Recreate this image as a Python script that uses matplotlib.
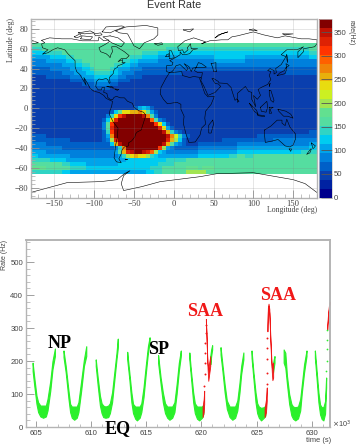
#!/usr/bin/env python3
import numpy as np
import matplotlib
matplotlib.use('Agg')
import matplotlib.pyplot as plt
from matplotlib.colors import ListedColormap, BoundaryNorm
from matplotlib.ticker import MultipleLocator

W, H = 357, 445
SERIF = 'Liberation Serif'
SANS = 'Liberation Sans'
GRAY = '#b4b4b4'
TXT = '#444444'

# colour level of each map cell, north to south, one char per 5 deg of longitude
# (0-9, a-j: level index on the colour bar)
map_rows = [
    '888888 888888 888888 888888 888888 888888 888888 888888 888888 888888 888888 888888',
    '777888 888888 888888 888888 888888 888877 777777 777777 777777 777777 777777 777788',
    '666677 778888 888888 888888 888877 776666 666666 666666 666666 666666 666666 666677',
    '555556 666778 888888 888888 877766 665555 555555 555566 666666 555555 555555 555566',
    '444455 555667 788888 888887 766555 554444 444444 444455 555555 444444 444444 444444',
    '444444 445556 677888 888776 655444 444444 444444 444444 444444 444444 444444 444444',
    '333334 444455 566788 887655 544433 333333 333333 333333 333333 333333 333333 333333',
    '333333 334445 556677 776654 443333 333333 332222 222222 222222 222222 222233 333333',
    '222233 333344 455566 665544 333322 222222 222222 222222 222222 222222 222222 222222',
    '222222 222233 334455 554433 322222 222222 222222 222222 222222 222222 222222 222222',
    '222222 222222 233344 443322 222222 222222 222222 222222 222222 222222 222222 222222',
    '222222 222222 222333 332222 222222 222222 222222 222222 222222 222222 222222 222222',
    '222222 222222 222222 222222 222222 222222 222222 222222 222222 222222 222222 222222',
    '222222 222222 222222 222222 222222 222222 222222 222222 222222 222222 222222 222222',
    '222222 222222 222222 222222 222222 222222 222222 222222 222222 222222 222222 222222',
    '222222 222222 222222 222222 222222 222222 222222 222222 222222 222222 222222 222222',
    '222222 222222 222222 222222 223565 322222 222222 222222 222222 222222 222222 222222',
    '222222 222222 222222 22369c cddec9 532222 222222 222222 222222 222222 222222 222222',
    '222222 222222 222222 247cgi jjjjie 842222 222222 222222 222222 222222 222222 222222',
    '222222 222222 222222 36chjj jjjjjj f84322 222222 222222 222222 222222 222222 222222',
    '222222 222222 222222 48gjjj jjjjjj jgc632 222222 222222 222222 222222 222222 222222',
    '222222 222222 222222 48hjjj jjjjjj jjhc53 222222 222222 222222 222222 222222 222222',
    '222222 222222 222222 37gjjj jjjjjj jjjid7 432222 222222 222222 222222 222222 222233',
    '333322 222222 222222 35ejjj jjjjjj jjjjie b74322 222222 222222 222333 333333 333333',
    '333333 333322 222222 34ahjj jjjjjj jjjjhd a63222 222222 333333 333333 344444 444444',
    '444433 333333 333333 336dij jjjjjj jjjid8 543222 333333 333344 444444 444444 444455',
    '444444 443333 333333 33347e jjjjjj jjga54 333333 444444 444455 555555 555555 555566',
    '555544 444444 444444 44458d hijjih fa6544 444444 555555 555566 666666 666666 667777',
    '665555 555544 444444 444457 acdcca 765555 555555 666666 667788 778888 888888 888888',
    '777776 666555 555555 555555 666666 666677 777888 888888 888888 888888 888888 888888',
    '888888 887766 665555 555566 666666 667777 888888 888888 888888 888888 888888 888888',
    '999988 888877 776666 666666 666666 777888 888999 899988 888888 888888 888888 888888',
    '777777 776655 555555 555555 555556 677888 888aaa aa8888 888888 888888 888888 888888',
]
lon_edges = np.arange(-180, 181, 5)
lat_edges = np.arange(66, -67, -4)

palette = ['#00008c', '#0022a2', '#0a3fae', '#0060c8', '#0080dc', '#00a4ea',
           '#00ccf0', '#30d4c4', '#55dda0', '#62e090', '#a2e452', '#ccf022',
           '#e8dc10', '#e8b00c', '#f08408', '#ff6000', '#ff3400', '#de2204',
           '#c01204', '#820000']
rate_max = 378.0

# coast outlines, lon/lat
americas = [(-166, 68.5), (-156, 71), (-141, 70), (-128, 70), (-115, 68), (-108, 68), (-95, 68),
            (-94, 72), (-88, 68), (-82, 69), (-81, 67), (-87, 64), (-94, 61), (-92, 57), (-85, 55),
            (-82, 53), (-80, 51), (-79, 54), (-77, 57), (-78, 62), (-72, 62), (-66, 59), (-62, 57),
            (-56, 53), (-60, 50), (-66, 50), (-70, 47), (-64, 49), (-65, 46), (-61, 46), (-66, 44),
            (-70, 43), (-71, 41), (-74, 40), (-76, 37), (-76, 35), (-81, 31), (-80, 26), (-81, 25),
            (-83, 29), (-85, 30), (-90, 29), (-94, 29.5), (-97, 27), (-98, 22), (-95, 18.5),
            (-91, 18.5), (-90, 21), (-87, 21), (-88, 16), (-84, 15), (-83, 11), (-80, 9), (-77, 8.5),
            (-75, 11), (-72, 12), (-67, 10.5), (-62, 10.5), (-58, 7), (-52, 5), (-50, 1), (-44, -2.5),
            (-38, -4), (-35, -7), (-37, -12), (-39, -17), (-41, -22), (-46, -24), (-48, -26),
            (-49, -29), (-53, -33), (-57, -35), (-57, -38), (-62, -39), (-65, -42), (-66, -46),
            (-69, -51), (-66, -55), (-72, -54), (-75, -50), (-74, -44), (-73, -37), (-71, -30),
            (-70, -20), (-76, -14), (-81, -6), (-80, -2), (-78, 2), (-77, 7), (-80, 8), (-85, 10),
            (-88, 13), (-94, 16), (-100, 17), (-105, 20), (-109, 26), (-113, 31), (-110, 23),
            (-115, 30), (-118, 34), (-122, 37), (-124, 42), (-124, 48), (-128, 51), (-133, 55),
            (-137, 59), (-146, 61), (-152, 59), (-158, 56), (-165, 54.5), (-158, 59), (-165, 61),
            (-166, 65), (-162, 66), (-166, 68.5)]
eurasia = [(-5.5, 36), (-9, 37), (-9, 43), (-2, 43.5), (-1, 46), (-5, 48), (2, 51), (8, 54), (8, 57),
           (11, 54), (14, 54), (20, 55), (24, 59), (30, 60), (22, 60), (21, 65), (17, 61), (18, 59),
           (13, 55.5), (11, 59), (6, 58), (5, 62), (14, 68), (25, 71), (40, 67), (35, 65), (45, 68),
           (60, 69), (68, 69), (73, 72), (80, 73), (100, 77), (113, 74), (130, 71), (140, 73),
           (160, 70), (170, 70), (180, 69), (180, 65), (177, 62), (163, 60), (163, 57), (156, 51),
           (156, 57), (163, 62), (155, 59), (142, 59), (135, 54), (141, 52), (135, 44), (128, 40),
           (129, 36), (126, 34.5), (126, 38), (121, 40), (118, 38), (122, 37), (120, 33), (122, 29),
           (118, 24), (110, 21), (106, 19), (109, 13), (105, 9), (100, 13), (103, 1.5), (98, 9),
           (98, 16), (94, 17), (90, 22), (80, 15), (80, 10), (77, 8), (73, 18), (72, 21), (67, 25),
           (57, 25.5), (56, 27), (50, 30), (48, 30), (52, 25), (56, 24.5), (59, 22), (52, 16),
           (43, 13), (38, 22), (34, 28), (35, 31), (36, 36), (30, 36), (26, 38), (28, 41), (36, 41),
           (41, 41.5), (35, 45), (31, 46), (28, 41), (24, 40.5), (22, 37), (19, 42), (13, 45),
           (18, 40), (16, 38), (8, 44), (3, 43), (0, 39), (-2, 37), (-5.5, 36)]
africa = [(-5.5, 35.8), (10, 37), (11, 33), (20, 31), (25, 32), (34, 31), (32.5, 30), (36, 22), (39, 15),
          (43, 11.5), (51, 12), (47, 4), (40, -3), (39, -10), (40, -16), (35, -20), (33, -27), (27, -34),
          (19, -34.5), (15, -25), (12, -15), (13, -8), (9, -1), (9, 4), (4, 6), (-4, 5), (-8, 4.5),
          (-13, 9), (-17, 14.5), (-16, 21), (-10, 30), (-5.5, 35.8)]
greenland = [(-73, 78), (-60, 82), (-35, 83.5), (-20, 81), (-20, 74), (-25, 70), (-37, 66), (-43, 60),
             (-50, 63), (-54, 69), (-58, 75), (-68, 76), (-73, 78)]
australia = [(114, -22), (122, -18), (130, -12), (136, -12), (136, -15), (140, -17.5), (142, -11),
             (146, -19), (153, -26), (153, -31), (150, -37), (146, -39), (140, -38), (136, -35),
             (131, -31.5), (124, -33), (115, -34.5), (114, -26), (114, -22)]
antarctica = [(-180, -85), (-134, -75), (-92, -74), (-71, -72), (-62, -66), (-55, -63), (-63, -68),
              (-66, -76), (-63, -83), (-40, -79), (-17, -74), (33, -69), (54, -66), (100, -65),
              (150, -72), (165, -76), (180, -85)]
islands = [
    [(-80, 73), (-70, 71), (-62, 66), (-66, 62), (-72, 64), (-78, 66), (-85, 70), (-89, 72), (-80, 73)],
    [(-90, 77), (-85, 82), (-65, 83), (-62, 82), (-75, 78), (-80, 76), (-90, 77)],
    [(-117, 70), (-105, 69), (-102, 72), (-115, 73), (-117, 70)],
    [(-125, 72), (-118, 75), (-116, 73), (-122, 71), (-125, 72)],
    [(-100, 75), (-92, 76), (-90, 74), (-98, 73), (-100, 75)],
    [(-120, 76), (-105, 78), (-100, 76), (-112, 75), (-120, 76)],
    [(-180, 69), (-170, 66), (-180, 65)],
    [(47, 45), (53, 46), (53, 40), (54, 37), (50, 37), (49, 41), (47, 45)],
    [(173, -35), (178, -38), (175, -41), (173, -35)],
    [(173, -41), (171, -45), (167, -46.5), (172, -41)],
    [(49, -12), (50, -16), (47, -25), (44, -25), (44, -17), (49, -12)],
    [(130, 33), (136, 34), (140, 35), (142, 40), (141, 45), (145, 43), (141, 41), (139, 38), (133, 35.5), (130, 33)],
    [(-5, 50), (1, 51), (-1, 54), (-3, 58), (-6, 58), (-5, 54), (-5, 50)],
    [(-10, 52), (-6, 52), (-6, 55), (-9, 54), (-10, 52)],
    [(-24, 65), (-15, 66), (-14, 64.5), (-20, 63.5), (-24, 65)],
    [(95, 5), (104, -2), (106, -6), (101, -3), (95, 5)],
    [(109, 1), (117, 7), (118, 1), (116, -4), (110, -3), (109, 1)],
    [(105, -6.5), (114, -7.5), (114, -8.5), (106, -7.5), (105, -6.5)],
    [(120, 1), (125, 1), (121, -1), (123, -5), (120, -5), (120, 1)],
    [(131, -1), (141, -3), (147, -6), (150, -10), (143, -8), (138, -8), (132, -3), (131, -1)],
    [(120, 18), (122, 18), (124, 13), (126, 8), (125, 6), (122, 8), (120, 14), (120, 18)],
    [(121, 25), (120, 22), (121, 25)],
    [(80, 9), (82, 7), (80, 6), (80, 9)],
    [(-84, 22), (-75, 20), (-78, 22), (-84, 22)],
    [(-74, 19.5), (-69, 19), (-71, 18), (-74, 19.5)],
    [(142, 54), (143, 50), (143, 46), (142, 50), (142, 54)],
    [(12, 79), (25, 80), (20, 77), (12, 79)],
    [(52, 71), (56, 74), (68, 77), (60, 75), (52, 71)],
    [(95, 79), (105, 78), (100, 80), (95, 79)],
    [(137, 75), (150, 75), (140, 74), (137, 75)],
    [(145, -41), (148, -41), (147, -43.5), (145, -41)],
    [(-61, -51.5), (-58, -51.5), (-59, -52), (-61, -51.5)],
]

# time series bands: time (1e3 s), lower and upper edge of the rate (Hz)
arc1_t = [604.7, 604.85, 605.05, 605.2, 605.4, 605.65, 605.9, 606.05, 606.3, 606.5, 606.72]
arc1_lo = [170, 125, 70, 45, 32, 28, 32, 50, 110, 175, 215]
arc1_hi = [195, 150, 95, 75, 65, 65, 65, 85, 140, 200, 238]
arc2_t = [607.5, 607.7, 607.95, 608.1, 608.25, 608.47, 608.7, 608.85, 609.1, 609.35, 609.56]
arc2_lo = [212, 165, 85, 45, 28, 22, 28, 45, 110, 185, 215]
arc2_hi = [232, 185, 110, 70, 62, 62, 62, 75, 140, 205, 245]
arc3_t = [610.42, 610.6, 610.8, 610.95, 611.1, 611.3, 611.55, 611.7, 611.9, 612.1, 612.3, 612.42]
arc3_lo = [185, 125, 65, 42, 30, 28, 30, 42, 75, 140, 205, 240]
arc3_hi = [205, 150, 95, 72, 65, 62, 65, 72, 105, 165, 225, 268]
arc4_t = [613.27, 613.45, 613.65, 613.8, 614.0, 614.15, 614.4, 614.55, 614.75, 614.95, 615.15, 615.3]
arc4_lo = [205, 150, 75, 42, 25, 20, 28, 45, 90, 160, 225, 255]
arc4_hi = [228, 170, 105, 70, 62, 62, 62, 72, 120, 185, 245, 272]
arc5_t = [616.07, 616.3, 616.5, 616.7, 616.9, 617.1, 617.35, 617.55, 617.75, 617.95, 618.13]
arc5_lo = [195, 130, 75, 42, 28, 22, 28, 45, 100, 170, 215]
arc5_hi = [218, 150, 105, 72, 62, 62, 62, 75, 130, 195, 232]
arc6_t = [618.9, 619.05, 619.25, 619.4, 619.6, 619.8, 620.05, 620.18]
arc6_lo = [205, 150, 75, 42, 25, 20, 28, 40]
arc6_hi = [226, 170, 105, 72, 62, 62, 62, 68]
arc6b_t = [620.8, 620.88, 620.97]
arc6b_lo = [190, 215, 235]
arc6b_hi = [215, 235, 248]
arc7_t = [621.73, 621.9, 622.1, 622.3, 622.55, 622.8, 623.05, 623.25, 623.45, 623.6, 623.8]
arc7_lo = [220, 170, 105, 55, 30, 22, 28, 50, 105, 160, 205]
arc7_hi = [242, 190, 130, 80, 62, 62, 62, 80, 135, 185, 226]
arc8_t = [624.54, 624.7, 624.9, 625.05, 625.2, 625.4, 625.65, 625.8]
arc8_lo = [210, 150, 75, 42, 28, 20, 28, 35]
arc8_hi = [232, 170, 105, 72, 62, 58, 60, 65]
arc8b_t = [626.48, 626.55, 626.62]
arc8b_lo = [165, 180, 195]
arc8b_hi = [190, 205, 215]
arc9_t = [627.45, 627.6, 627.75, 627.95, 628.15, 628.3, 628.5, 628.75, 628.95, 629.1, 629.3, 629.52]
arc9_lo = [195, 180, 130, 70, 35, 25, 20, 26, 50, 105, 165, 215]
arc9_hi = [235, 225, 155, 100, 70, 62, 60, 62, 85, 130, 190, 232]
arc10_t = [630.28, 630.45, 630.6, 630.75, 630.9, 631.05, 631.2, 631.3]
arc10_lo = [210, 140, 75, 38, 24, 20, 40, 120]
arc10_hi = [232, 165, 105, 68, 60, 60, 78, 150]
green_bands = [(arc1_t, arc1_lo, arc1_hi), (arc2_t, arc2_lo, arc2_hi), (arc3_t, arc3_lo, arc3_hi),
               (arc4_t, arc4_lo, arc4_hi), (arc5_t, arc5_lo, arc5_hi), (arc6_t, arc6_lo, arc6_hi),
               (arc6b_t, arc6b_lo, arc6b_hi), (arc7_t, arc7_lo, arc7_hi), (arc8_t, arc8_lo, arc8_hi),
               (arc8b_t, arc8b_lo, arc8b_hi), (arc9_t, arc9_lo, arc9_hi), (arc10_t, arc10_lo, arc10_hi)]
green_dots_t = [631.33, 631.35, 631.37, 631.38, 631.4]
green_dots_r = [170, 200, 235, 265, 295]

saa1_t = [620.1, 620.2, 620.25]
saa1_lo = [30, 45, 70]
saa1_hi = [60, 85, 110]
saa1b_t = [620.4, 620.45, 620.5, 620.55, 620.62, 620.7, 620.8]
saa1b_lo = [320, 280, 225, 180, 140, 160, 185]
saa1b_hi = [328, 290, 235, 195, 175, 195, 215]
saa2_t = [625.72, 625.85, 625.92]
saa2_lo = [30, 45, 80]
saa2_hi = [55, 85, 120]
saa2b_t = [625.98, 626.02, 626.08, 626.15, 626.22, 626.3, 626.38, 626.43, 626.5]
saa2b_lo = [290, 350, 366, 345, 280, 215, 165, 142, 150]
saa2b_hi = [310, 362, 374, 358, 295, 230, 180, 190, 195]
saa3_t = [631.4, 631.47, 631.53, 631.58, 631.65]
saa3_lo = [295, 330, 352, 368, 374]
saa3_hi = [310, 342, 362, 376, 380]
red_bands = [(saa1_t, saa1_lo, saa1_hi), (saa1b_t, saa1b_lo, saa1b_hi), (saa2_t, saa2_lo, saa2_hi),
             (saa2b_t, saa2b_lo, saa2b_hi), (saa3_t, saa3_lo, saa3_hi)]
red_dots_t = [620.27, 620.29, 620.31, 620.33, 620.35, 620.37, 620.39,
              625.93, 625.94, 625.95, 625.96, 625.97]
red_dots_r = [125, 160, 195, 225, 255, 285, 310, 130, 165, 205, 240, 270]

# ---- figure ----
fig = plt.figure(figsize=(W / 100, H / 100), dpi=100)


def box(x0, y0, x1, y1):
    return [x0 / W, 1 - y1 / H, (x1 - x0) / W, (y1 - y0) / H]


def root_frame(ax, color=GRAY):
    for s in ax.spines.values():
        s.set_color(color)
        s.set_linewidth(1.0)
    ax.tick_params(which='major', direction='in', length=7, width=0.6, color='#909090')
    ax.tick_params(which='minor', direction='in', length=3.5, width=0.5, color='#a8a8a8')


# event rate map
levels = np.array([[int(c, 36) for c in r.replace(' ', '')] for r in map_rows])
rates = (levels + 0.5) * rate_max / len(palette)
cmap = ListedColormap(palette)
bounds = np.linspace(0, rate_max, len(palette) + 1)
norm = BoundaryNorm(bounds, cmap.N)

ax1 = fig.add_axes(box(30.5, 19, 317, 197.5))
mesh = ax1.pcolormesh(lon_edges, lat_edges, rates, cmap=cmap, norm=norm, edgecolors='none')
for line in [americas, eurasia, africa, greenland, australia, antarctica] + islands:
    xy = np.array(line)
    ax1.plot(xy[:, 0], xy[:, 1], color='black', lw=0.4)
ax1.set_xlim(-180, 180)
ax1.set_ylim(-90, 90)
ax1.xaxis.set_major_locator(MultipleLocator(50))
ax1.xaxis.set_minor_locator(MultipleLocator(10))
ax1.yaxis.set_major_locator(MultipleLocator(20))
ax1.yaxis.set_minor_locator(MultipleLocator(4))
ax1.grid(True, which='major', color='#808080', lw=0.4, alpha=0.35)
ax1.set_axisbelow(False)
root_frame(ax1)
ax1.tick_params(axis='both', which='both', labelsize=6.2, labelcolor=TXT, pad=1.5)
ax1.tick_params(axis='both', which='major', length=6)
ax1.tick_params(axis='both', which='minor', length=3)
for lab in ax1.get_xticklabels() + ax1.get_yticklabels():
    lab.set_family(SERIF)
fig.text(174 / W, 1 - 5 / H, 'Event Rate', family=SANS, fontsize=7.8, color='#333333',
         ha='center', va='center')
fig.text(317 / W, 1 - 210.5 / H, 'Longitude (deg)', family=SERIF, fontsize=5.6, color=TXT,
         ha='right', va='center')
fig.text(11 / W, 1 - 40 / H, 'Latitude (deg)', family=SERIF, fontsize=5.6, color=TXT,
         ha='center', va='center', rotation=90)

# colour bar
cax = fig.add_axes(box(319, 19, 331.5, 197.5))
cb = fig.colorbar(mesh, cax=cax, ticks=np.arange(0, 351, 50), spacing='proportional', drawedges=False)
cb.outline.set_edgecolor('#c8c8c8')
cb.outline.set_linewidth(0.5)
cax.set_ylim(0, rate_max)
cax.minorticks_off()
cax.tick_params(which='major', direction='in', length=8, width=0.6, color='#555555',
                labelsize=5.6, labelcolor=TXT, pad=1.5, right=True, left=False)
for lab in cax.get_yticklabels():
    lab.set_family(SANS)
fig.text(351 / W, 1 - 33 / H, 'rate(Hz)', family=SANS, fontsize=5, color=TXT,
         ha='center', va='center', rotation=270)

# rate vs time
ax2 = fig.add_axes(box(26, 240, 330, 427))
for t, lo, hi in green_bands:
    ax2.fill_between(t, lo, hi, color='#2bf02b', lw=0.8)
ax2.plot(green_dots_t, green_dots_r, ls='none', marker='.', ms=2.5, mew=0, color='#2bf02b')
for t, lo, hi in red_bands:
    ax2.fill_between(t, lo, hi, color='#f01818', lw=0.6)
ax2.plot(red_dots_t, red_dots_r, ls='none', marker='.', ms=2.8, mew=0, color='#f01818')
ax2.set_xlim(604.1, 631.65)
ax2.set_ylim(0, 567)
ax2.xaxis.set_major_locator(MultipleLocator(5))
ax2.xaxis.set_minor_locator(MultipleLocator(1))
ax2.yaxis.set_major_locator(MultipleLocator(100))
ax2.yaxis.set_minor_locator(MultipleLocator(20))
root_frame(ax2)
ax2.spines['top'].set_linewidth(1.4)
ax2.spines['right'].set_linewidth(1.4)
ax2.tick_params(axis='both', which='both', labelsize=5.6, labelcolor=TXT, pad=2)
ax2.tick_params(axis='x', which='major', length=4.5)
ax2.tick_params(axis='x', which='minor', length=2.5)
ax2.tick_params(axis='y', which='major', length=6)
ax2.tick_params(axis='y', which='minor', length=3)
for lab in ax2.get_xticklabels() + ax2.get_yticklabels():
    lab.set_family(SANS)
fig.text(5 / W, 1 - 255 / H, 'Rate (Hz)', family=SANS, fontsize=5, color=TXT,
         ha='center', va='center', rotation=90)
fig.text(331 / W, 1 - 440 / H, 'time (s)', family=SANS, fontsize=5.4, color=TXT,
         ha='right', va='center')
fig.text(331.5 / W, 1 - 424 / H, r'$\times$10$^{3}$', family=SANS, fontsize=5.2, color=TXT,
         ha='left', va='center', math_fontfamily='dejavusans')

# annotations
for s, x, y, c in [('NP', 60, 344, 'black'), ('SP', 158.5, 349.5, 'black'), ('EQ', 118, 429, 'black'),
                   ('SAA', 205, 311, '#f01818'), ('SAA', 278, 296, '#f01818')]:
    fig.text(x / W, 1 - y / H, s, family=SERIF, weight='bold', fontsize=13, color=c,
             ha='center', va='center')

fig.savefig('out.png', dpi=100)
